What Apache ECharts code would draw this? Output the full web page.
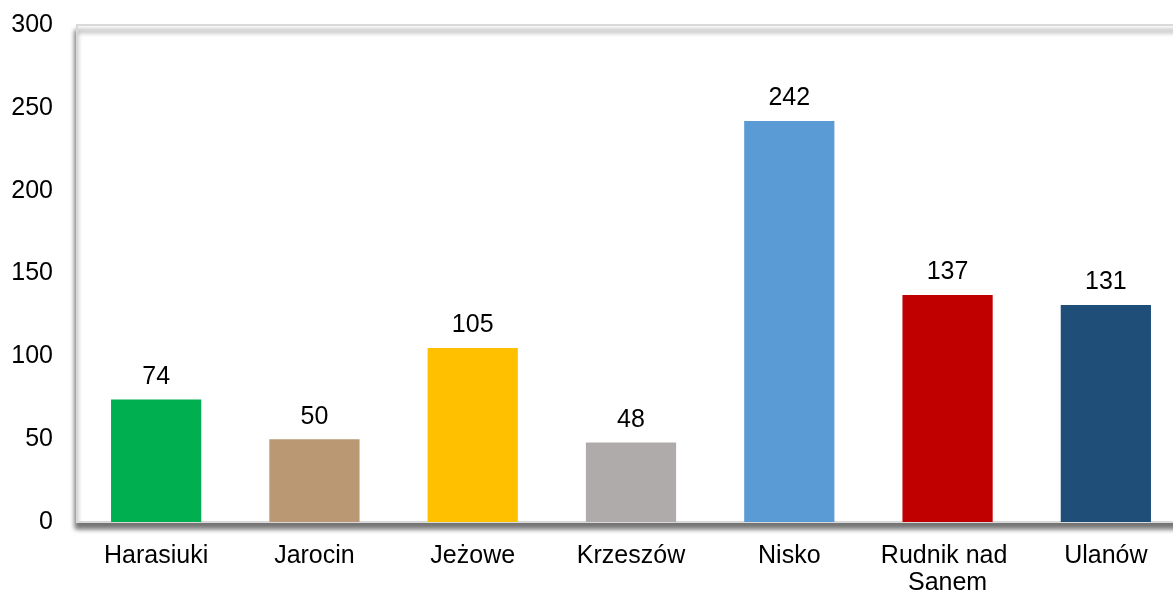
<!DOCTYPE html>
<html><head><meta charset="utf-8">
<script src="https://cdn.jsdelivr.net/npm/echarts@6/dist/echarts.min.js"></script>
<style>html,body{margin:0;padding:0;background:#fff}#c{width:1173px;height:596px}</style>
</head><body><div id="c"></div>
<script>
const categories = ['Harasiuki','Jarocin','Jeżowe','Krzeszów','Nisko','Rudnik nad Sanem','Ulanów'];
const values = [74, 50, 105, 48, 242, 137, 131];
const barColors = ['#00b050','#b99873','#ffc000','#afabab','#5b9bd5','#c00000','#1f4e79'];

const chart = echarts.init(document.getElementById('c'));
chart.setOption({
  animation: false,
  grid: {
    left: 77, right: -12, top: 25, bottom: 74,
    outerBoundsMode: 'none', containLabel: false,
    show: true, backgroundColor: '#fff', borderColor: '#d9d9d9', borderWidth: 2,
    shadowColor: 'rgba(0,0,0,0.55)', shadowBlur: 5, shadowOffsetX: -1, shadowOffsetY: 6
  },
  xAxis: {
    type: 'category', data: categories,
    axisLine: { show: true, lineStyle: { color: '#d9d9d9', width: 2 } },
    axisTick: { show: false },
    axisLabel: { interval: 0, color: '#000', fontFamily: 'Liberation Sans, Arial', fontSize: 25, margin: 21, width: 150, overflow: 'break', lineHeight: 27 }
  },
  yAxis: {
    type: 'value', min: 0, max: 300, interval: 50,
    axisLine: { show: false }, axisTick: { show: false }, splitLine: { show: false },
    axisLabel: { color: '#000', fontFamily: 'Liberation Sans, Arial', fontSize: 25, margin: 24 }
  },
  series: [{
    type: 'bar', barWidth: '57%',
    data: values.map((v, i) => ({ value: v, itemStyle: { color: barColors[i] } })),
    label: { show: true, position: 'top', distance: 10, color: '#000', fontFamily: 'Liberation Sans, Arial', fontSize: 25 }
  }]
});
</script></body></html>
